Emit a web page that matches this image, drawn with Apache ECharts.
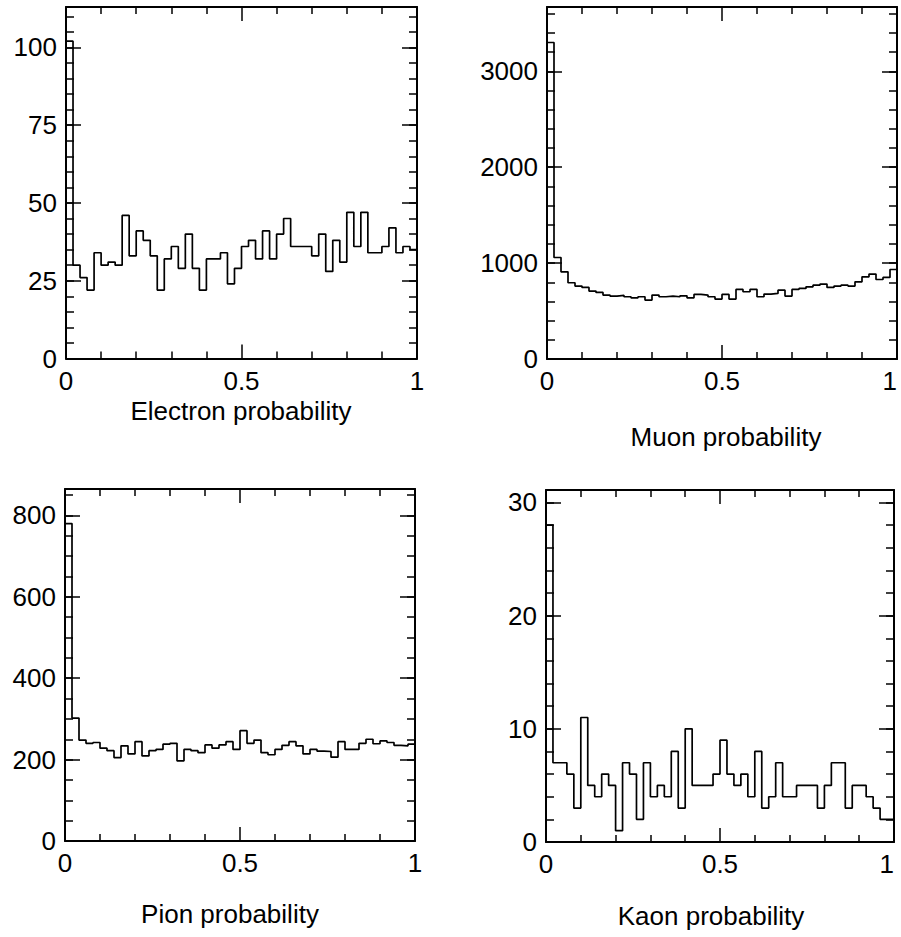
<!DOCTYPE html>
<html>
<head>
<meta charset="utf-8">
<title>Particle identification probabilities</title>
<script src="https://cdn.jsdelivr.net/npm/echarts@6/dist/echarts.min.js"></script>
<style>
html, body { margin: 0; padding: 0; background: #fff; }
#main { width: 901px; height: 937px; }
</style>
</head>
<body>
<div id="main"></div>
<script>
// 50 bins of width 0.02 between 0 and 1
var binWidth = 0.02;
var electronCounts = [102, 30, 26, 22, 34, 30, 31, 30, 46, 33, 41, 38, 33, 22, 32, 36, 29, 40, 29, 22,
  32, 32, 34, 24, 29, 36, 38, 32, 41, 32, 40, 45, 36, 36, 36, 33, 40, 28, 38, 31,
  47, 36, 47, 34, 34, 36, 42, 34, 36, 35];
var muonCounts = [3300, 1058, 909, 795, 760, 746, 708, 694, 666, 656, 663, 649, 638, 649, 614, 666, 649, 656, 649, 659,
  638, 673, 666, 649, 625, 673, 625, 725, 701, 725, 649, 677, 684, 718, 656, 725, 736, 753, 770, 781,
  746, 760, 770, 760, 805, 857, 885, 829, 850, 933];
var pionCounts = [780, 302, 248, 240, 242, 228, 222, 205, 234, 214, 244, 209, 222, 225, 238, 240, 197, 225, 222, 217,
  236, 228, 236, 244, 225, 271, 240, 248, 217, 212, 225, 235, 244, 234, 214, 225, 221, 220, 206, 244,
  225, 225, 240, 250, 239, 246, 242, 235, 234, 238];
var kaonCounts = [28, 7, 7, 6, 3, 11, 5, 4, 6, 5, 1, 7, 6, 2, 7, 4, 5, 4, 8, 3,
  10, 5, 5, 5, 6, 9, 6, 5, 6, 4, 8, 3, 4, 7, 4, 4, 5, 5, 5, 3,
  5, 7, 7, 3, 5, 5, 4, 3, 2, 2];

var titles = ['Electron probability', 'Muon probability', 'Pion probability', 'Kaon probability'];
var yMax = [113, 3670, 865, 31.1];
var yMajor = [25, 1000, 200, 10];
var yMinor = [5, 200, 50, 2];

var panels = [
  { counts: electronCounts, grid: { left: 66, top: 7, width: 351, height: 351.5 }, titlePos: [241, 411] },
  { counts: muonCounts, grid: { left: 547, top: 7, width: 350, height: 352 }, titlePos: [726, 437] },
  { counts: pionCounts, grid: { left: 65, top: 489, width: 350, height: 352 }, titlePos: [230, 914] },
  { counts: kaonCounts, grid: { left: 546, top: 490, width: 348, height: 352 }, titlePos: [711, 916] }
];

var font = 'Liberation Sans, Arial, Helvetica, sans-serif';
var black = '#000';

function plain(v) { return String(v); }

var grids = [], xAxes = [], yAxes = [], series = [], texts = [];

panels.forEach(function (p, i) {
  var g = p.grid;
  g.outerBoundsMode = 'none';
  g.containLabel = false;
  grids.push(g);

  var xBottom = xAxes.length;
  ['bottom', 'top'].forEach(function (pos) {
    xAxes.push({
      gridIndex: i, type: 'value', position: pos, min: 0, max: 1, interval: 0.5,
      axisLine: { show: true, onZero: false, lineStyle: { color: black, width: 2 } },
      axisTick: { show: true, inside: true, length: 14, lineStyle: { color: black, width: 1.5 } },
      minorTick: { show: true, splitNumber: 5, length: 7, lineStyle: { color: black, width: 1.5 } },
      splitLine: { show: false },
      axisLabel: {
        show: pos === 'bottom', margin: 9, fontSize: 26, fontFamily: font, color: black, formatter: plain,
        alignMaxLabel: i % 2 === 1 ? 'right' : null
      }
    });
  });

  var yLeft = yAxes.length;
  ['left', 'right'].forEach(function (pos) {
    // long ticks (and labels on the left)
    yAxes.push({
      gridIndex: i, type: 'value', position: pos, min: 0, max: yMax[i], interval: yMajor[i],
      axisLine: { show: true, onZero: false, lineStyle: { color: black, width: 2 } },
      axisTick: { show: true, inside: true, length: 15, lineStyle: { color: black, width: 1.5 } },
      splitLine: { show: false },
      axisLabel: { show: pos === 'left', showMaxLabel: false, margin: 9, fontSize: 26, fontFamily: font, color: black, formatter: plain }
    });
    // short ticks
    yAxes.push({
      gridIndex: i, type: 'value', position: pos, min: 0, max: yMax[i], interval: yMinor[i],
      axisLine: { show: false, onZero: false },
      axisTick: { show: true, inside: true, length: 8, lineStyle: { color: black, width: 1.5 } },
      splitLine: { show: false },
      axisLabel: { show: false }
    });
  });

  // step outline: left edge of each bin, plus the closing right edge
  var pts = [];
  for (var k = 0; k < p.counts.length; k++) {
    pts.push([k * binWidth, p.counts[k]]);
  }
  pts.push([p.counts.length * binWidth, p.counts[p.counts.length - 1]]);

  series.push({
    type: 'line', step: 'end', xAxisIndex: xBottom, yAxisIndex: yLeft,
    data: pts, symbol: 'none', silent: true, clip: true,
    lineStyle: { color: black, width: 1.7 }
  });

  texts.push({
    type: 'text', x: p.titlePos[0], y: p.titlePos[1],
    style: { text: titles[i], fontSize: 26, fontFamily: font, fill: black, align: 'center', verticalAlign: 'middle' }
  });
});

var myChart = echarts.init(document.getElementById('main'), null, { renderer: 'svg' });
myChart.setOption({
  animation: false,
  backgroundColor: '#fff',
  grid: grids,
  xAxis: xAxes,
  yAxis: yAxes,
  series: series,
  graphic: texts
});
</script>
</body>
</html>
